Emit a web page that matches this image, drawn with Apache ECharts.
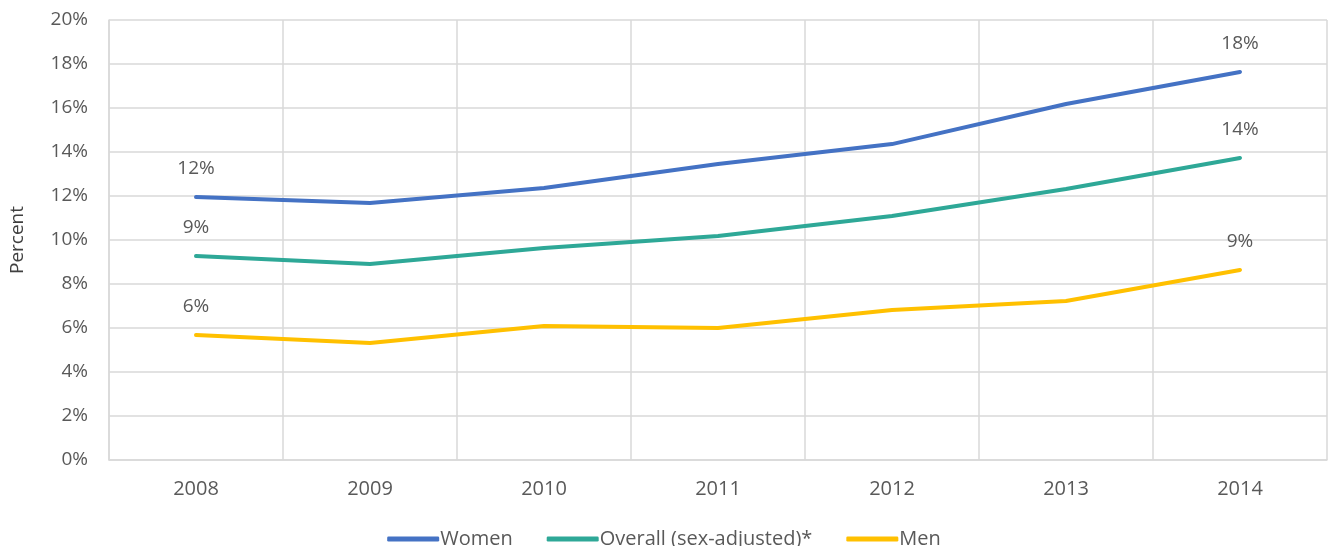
<!DOCTYPE html>
<html><head><meta charset="utf-8">
<script src="https://cdn.jsdelivr.net/npm/echarts@6/dist/echarts.min.js"></script>
<style>html,body{margin:0;padding:0;background:#fff}#c{width:1328px;height:546px}</style>
</head><body><div id="c"></div>
<script>
const years = ['2008','2009','2010','2011','2012','2013','2014'];
const women = [11.95, 11.68, 12.36, 13.45, 14.36, 16.18, 17.64];
const overall = [9.27, 8.91, 9.64, 10.18, 11.09, 12.32, 13.73];
const men = [5.68, 5.32, 6.09, 6.0, 6.82, 7.23, 8.64];
const seriesNames = ['Women', 'Overall (sex-adjusted)*', 'Men'];
const colors = ['#4472C4', '#2EA897', '#FFC000'];

const font = 'Open Sans';
function mk(name, data, color) {
  return {
    name, type: 'line', data, symbol: 'circle', symbolSize: 0.01, showSymbol: true,
    lineStyle: {width: 4, color, cap: 'round', join: 'round'},
    itemStyle: {color},
    label: {
      show: true, position: 'top', distance: 19,
      fontFamily: font, fontSize: 19, color: '#595959',
      formatter: p => (p.dataIndex === 0 || p.dataIndex === data.length - 1) ? Math.round(p.value) + '%' : ''
    },
    emphasis: {disabled: true}
  };
}
const chart = echarts.init(document.getElementById('c'));
chart.setOption({
  animation: false,
  grid: {left: 107, right: 1, top: 20, bottom: 86},
  legend: {
    bottom: -8, left: 'center', itemWidth: 52, itemHeight: 5, itemGap: 34,
    icon: 'roundRect',
    textStyle: {fontFamily: font, fontSize: 20, color: '#595959', padding: [0, 0, 0, -4]},
    data: seriesNames
  },
  xAxis: {
    type: 'category', data: years, boundaryGap: true,
    axisLine: {lineStyle: {color: '#D9D9D9', width: 1.5}},
    axisTick: {show: false},
    axisLabel: {fontFamily: font, fontSize: 20, color: '#595959', margin: 19},
    splitLine: {show: true, lineStyle: {color: '#D9D9D9', width: 1.5}}
  },
  yAxis: {
    type: 'value', min: 0, max: 20, interval: 2,
    name: 'Percent', nameLocation: 'middle', nameGap: 82, nameRotate: 90,
    nameTextStyle: {fontFamily: font, fontSize: 19, color: '#404040'},
    axisLine: {show: true, lineStyle: {color: '#D9D9D9', width: 1.5}},
    axisTick: {show: false},
    axisLabel: {fontFamily: font, fontSize: 19, color: '#595959', formatter: '{value}%', margin: 21},
    splitLine: {lineStyle: {color: '#D9D9D9', width: 1.5}}
  },
  series: [mk(seriesNames[0], women, colors[0]), mk(seriesNames[1], overall, colors[1]), mk(seriesNames[2], men, colors[2])]
});
</script></body></html>
